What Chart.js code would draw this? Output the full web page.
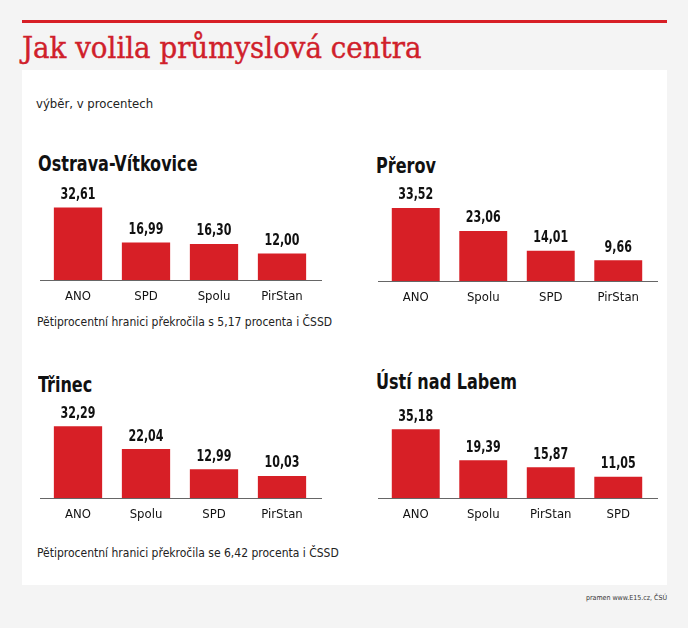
<!DOCTYPE html>
<html lang="cs">
<head>
<meta charset="UTF-8">
<title>Jak volila průmyslová centra</title>
<script src="https://cdn.jsdelivr.net/npm/chart.js"></script>
<style>
  body { margin: 0; background: #f4f4f4; width: 688px; height: 628px; position: relative; overflow: hidden;
         font-family: 'Liberation Sans Narrow', 'DejaVu Sans Condensed', sans-serif; }
  .rule { position: absolute; left: 22px; top: 20px; width: 645px; height: 3px; background: #d71f26; }
  h1 { position: absolute; left: 22px; top: 34px; margin: 0; font: 400 29px 'DejaVu Serif', serif; color: #d0202a;
       -webkit-text-stroke: 0.4px #d0202a;
       white-space: nowrap; line-height: 1; transform: scaleX(0.955); transform-origin: left top; }
  .panel { position: absolute; left: 22px; top: 70px; width: 645px; height: 515px; background: #fff; }
  .sub { position: absolute; left: 36px; top: 96px; font-size: 13px; color: #222; }
  .head { position: absolute; font-weight: 700; font-size: 21px; color: #111; white-space: nowrap;
          transform: scaleX(0.85); transform-origin: left top; }
  .note { position: absolute; left: 37px; font-size: 12px; color: #222; white-space: nowrap; }
  .src { position: absolute; right: 21px; top: 594px; font-size: 7px; color: #333; }
  canvas { position: absolute; }
</style>
</head>
<body>
<div class="rule"></div>
<h1>Jak volila průmyslová centra</h1>
<div class="panel"></div>
<div class="sub">výběr, v procentech</div>

<div class="head" style="left:38px; top:152px">Ostrava-Vítkovice</div>
<div class="head" style="left:376px; top:154px">Přerov</div>
<div class="head" style="left:38px; top:373px">Třinec</div>
<div class="head" style="left:376px; top:370px">Ústí nad Labem</div>

<div class="note" style="top:315px">Pětiprocentní hranici překročila s 5,17 procenta i ČSSD</div>
<div class="note" style="top:546px">Pětiprocentní hranici překročila se 6,42 procenta i ČSSD</div>
<div class="src">pramen www.E15.cz, ČSÚ</div>

<canvas id="c1" width="284" height="130" style="left:38px; top:182px"></canvas>
<canvas id="c2" width="282" height="130" style="left:376px; top:183px"></canvas>
<canvas id="c3" width="284" height="130" style="left:38px; top:400px"></canvas>
<canvas id="c4" width="282" height="130" style="left:376px; top:400px"></canvas>

<script>
// data (v procentech)
const ostravaLabels = ['ANO', 'SPD', 'Spolu', 'PirStan'];
const ostravaValues = [32.61, 16.99, 16.30, 12.00];

const prerovLabels = ['ANO', 'Spolu', 'SPD', 'PirStan'];
const prerovValues = [33.52, 23.06, 14.01, 9.66];

const trinecLabels = ['ANO', 'Spolu', 'SPD', 'PirStan'];
const trinecValues = [32.29, 22.04, 12.99, 10.03];

const ustiLabels = ['ANO', 'Spolu', 'PirStan', 'SPD'];
const ustiValues = [35.18, 19.39, 15.87, 11.05];

// each panel has its own vertical range
const yMax = [44, 45, 44, 50];

const RED = '#d71f26';
const NARROW = "'Liberation Sans Narrow', 'DejaVu Sans Condensed', sans-serif";

// value above each bar + baseline across the whole panel
const barLabels = {
  id: 'barLabels',
  afterDatasetsDraw(chart) {
    const ctx = chart.ctx;
    const y0 = chart.scales.y.getPixelForValue(0);
    ctx.save();
    ctx.strokeStyle = '#666';
    ctx.lineWidth = 1;
    ctx.beginPath();
    ctx.moveTo(2, Math.round(y0) + 0.5);
    ctx.lineTo(chart.width, Math.round(y0) + 0.5);
    ctx.stroke();

    ctx.fillStyle = '#111';
    ctx.font = 'bold 15px ' + NARROW;
    ctx.textAlign = 'center';
    ctx.textBaseline = 'bottom';
    const meta = chart.getDatasetMeta(0);
    meta.data.forEach((bar, i) => {
      const v = chart.data.datasets[0].data[i];
      ctx.save();
      ctx.translate(bar.x, bar.y - 5);
      ctx.scale(0.82, 1);  // narrower digits like the original
      ctx.fillText(v.toFixed(2).replace('.', ','), 0, 0);
      ctx.restore();
    });
    ctx.restore();
  }
};

function makeChart(id, labels, values, max) {
  new Chart(document.getElementById(id), {
    type: 'bar',
    data: {
      labels: labels,
      datasets: [{
        data: values,
        backgroundColor: RED,
        borderWidth: 0,
        categoryPercentage: 1,
        barPercentage: 0.71
      }]
    },
    options: {
      responsive: false,
      animation: false,
      layout: { padding: { left: 6, right: 6, top: 0, bottom: 0 } },
      plugins: { legend: { display: false }, tooltip: { enabled: false } },
      scales: {
        x: {
          grid: { display: false, drawTicks: false },
          border: { display: false },
          ticks: { color: '#111', padding: 8, font: { family: NARROW, size: 13 } }
        },
        y: { display: false, min: 0, max: max }
      }
    },
    plugins: [barLabels]
  });
}

makeChart('c1', ostravaLabels, ostravaValues, yMax[0]);
makeChart('c2', prerovLabels, prerovValues, yMax[1]);
makeChart('c3', trinecLabels, trinecValues, yMax[2]);
makeChart('c4', ustiLabels, ustiValues, yMax[3]);
</script>
</body>
</html>
